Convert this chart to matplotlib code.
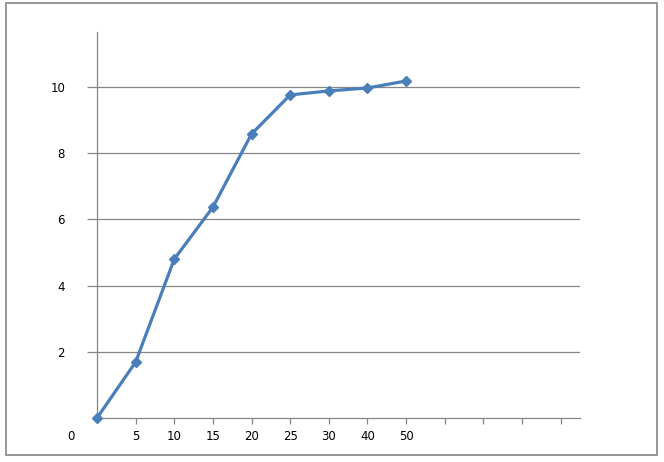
import matplotlib
matplotlib.use("Agg")
import matplotlib.pyplot as plt
from matplotlib.patches import Rectangle

categories = ["", "5", "10", "15", "20", "25", "30", "40", "50", "", "", "", ""]
values = [0.0, 1.69, 4.8, 6.37, 8.58, 9.76, 9.88, 9.97, 10.18]
y_ticks = [2, 4, 6, 8, 10]
first_label = "0"

W, H = 664, 462
fig = plt.figure(figsize=(W / 100, H / 100), dpi=100)
ax = fig.add_axes([97 / W, (H - 418) / H, (580 - 97) / W, (418 - 32) / H])

gray = "#868686"
blue = "#4A7EBB"

xs = list(range(len(values)))
ax.plot(xs, values, color=blue, lw=2.3, marker="D", ms=5.5, mfc=blue, mec=blue,
        zorder=5, clip_on=False)

ax.set_xlim(0, len(categories) - 0.5)
ax.set_ylim(0, 11.66)
ax.set_yticks(y_ticks)
ax.set_yticklabels([str(t) for t in y_ticks])
ax.set_xticks(range(1, len(categories)))
ax.set_xticklabels(categories[1:])
ax.grid(axis="y", color=gray, lw=0.9)
ax.set_axisbelow(True)

for s in ["top", "right"]:
    ax.spines[s].set_visible(False)
for s in ["left", "bottom"]:
    ax.spines[s].set_color(gray)
    ax.spines[s].set_linewidth(0.9)

ax.tick_params(axis="x", length=4, width=0.9, color=gray, pad=5,
               labelsize=8.5, labelcolor="black")
ax.tick_params(axis="y", length=7, width=0.9, color=gray, pad=16,
               labelsize=8.5, labelcolor="black")

ax.text(-0.67, -(11.5 / (418 - 32)), first_label, transform=ax.get_xaxis_transform(),
        ha="center", va="top", fontsize=8.5, color="black")

fig.patches.append(Rectangle((6 / W, (H - 455) / H), (657 - 6) / W, (455 - 3) / H,
                             transform=fig.transFigure, fill=False,
                             edgecolor=gray, lw=1.2))

fig.savefig("out.png", dpi=100)
